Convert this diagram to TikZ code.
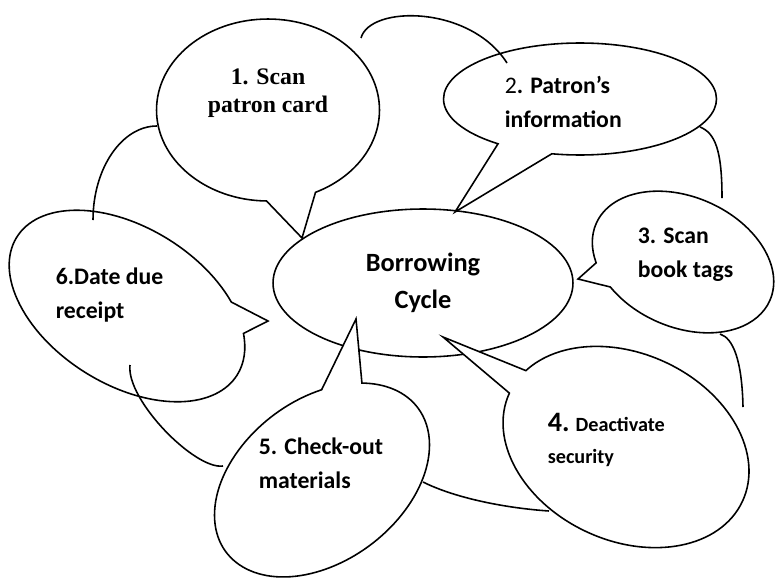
\documentclass[tikz,border=0pt]{standalone}
\usepackage{fontspec}
\setmainfont{Carlito}
\newfontfamily\timesfont{Liberation Serif}
\usetikzlibrary{shapes.geometric, shapes.callouts}

\begin{document}
\begin{tikzpicture}[x=0.02cm, y=-0.02cm, line width=0.9pt,
  bubble/.style={draw, ellipse callout, fill=white, inner sep=0pt},
  caption/.style={inner sep=0pt, anchor=west, align=left,
    font=\bfseries\fontsize{13.5}{19.5}\selectfont}]

\useasboundingbox (0,0) rectangle (776,578);

\node[draw, ellipse, inner sep=0pt, minimum width=6cm, minimum height=2.96cm,
  align=center, font=\bfseries\fontsize{15}{21}\selectfont] (cycle) at (423,283) {Borrowing\\Cycle};

% speech bubbles round the cycle
\node[bubble, minimum width=4.46cm, minimum height=3.64cm, callout pointer arc=26,
  callout absolute pointer={(302,238)}] (scan)    at (268,110) {};
\node[bubble, minimum width=5.46cm, minimum height=2.24cm, callout pointer arc=25,
  callout absolute pointer={(455,212)}] (patron)  at (580,99)  {};
\node[bubble, minimum width=3.8cm, minimum height=2.6cm, callout pointer arc=20,
  callout absolute pointer={(578,279)}, rotate=-24] (tags) at (683,262) {};
\node[bubble, minimum width=5.14cm, minimum height=3.74cm, callout pointer arc=17,
  callout absolute pointer={(443,337)}, rotate=-25] (security) at (626,447) {};
\node[bubble, minimum width=4.8cm, minimum height=3.24cm, callout pointer arc=22,
  callout absolute pointer={(356,319)}, rotate=37] (checkout) at (322,480) {};
\node[bubble, minimum width=5.2cm, minimum height=3.14cm, callout pointer arc=19,
  callout absolute pointer={(268,321)}, rotate=-32] (receipt) at (127,306) {};

% arcs between the bubbles
\coordinate (receipt top)    at (93,220);
\coordinate (scan left)      at (157,126);
\coordinate (scan right)     at (361,38);
\coordinate (patron top)     at (507,63);
\coordinate (patron right)   at (700,127);
\coordinate (tags top)       at (722,198);
\coordinate (tags bottom)    at (720,334);
\coordinate (security right) at (743,407);
\coordinate (security left)  at (549,511);
\coordinate (checkout right) at (423,482);
\coordinate (checkout left)  at (223,466);
\coordinate (receipt bottom) at (130,365);

\draw (receipt top) .. controls (93,168) and (122,126) .. (scan left);
\draw (scan right) .. controls (370,5) and (470,5) .. (patron top);
\draw (patron right) .. controls (715,133) and (722,150) .. (tags top);
\draw (tags bottom) .. controls (733,338) and (742,360) .. (security right);
\draw (security left) .. controls (505,508) and (455,498) .. (checkout right);
\draw (checkout left) .. controls (195,470) and (126,400) .. (receipt bottom);

% texts
\node[caption, anchor=center, align=center, font=\timesfont\bfseries\fontsize{13.5}{16}\selectfont]
  (scan text) at (268,93) {1. Scan\\patron card};
\node[caption] (patron text)   at (504,102) {{\mdseries 2}. Patron’s\\information};
\node[caption] (tags text)     at (637,255) {3. Scan\\book tags};
\node[caption, font=\bfseries\fontsize{11.5}{18.5}\selectfont]
  (security text) at (547,440) {{\fontsize{16}{18.5}\selectfont 4.} Deactivate\\security};
\node[caption] (checkout text) at (258,463) {5. Check-out\\materials};
\node[caption] (receipt text)  at (55,295)  {6.Date due\\receipt};

\end{tikzpicture}
\end{document}
